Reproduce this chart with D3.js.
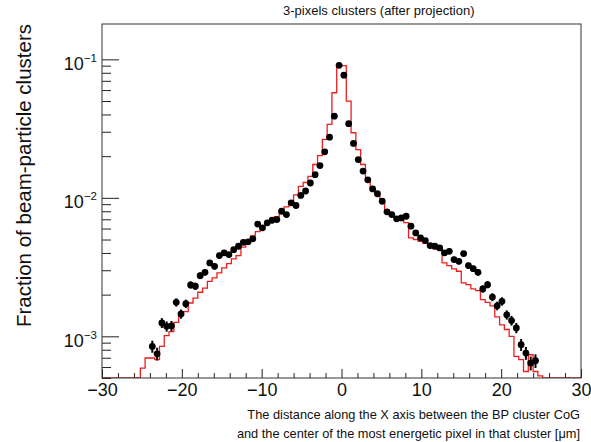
<!DOCTYPE html>
<html>
<head>
<meta charset="utf-8">
<script src="https://d3js.org/d3.v7.min.js"></script>
<style>
  body { margin: 0; background: #fff; }
  text { font-family: "Liberation Sans", Arial, sans-serif; }
</style>
</head>
<body>
<svg class="chart"></svg>
<script>
var svgWidth = 591, svgHeight = 442,
    frame = {left: 102, right: 581, top: 24, bottom: 378};

// histogram binning: 100 bins of 0.6 over [-30, 30]
var binStart = -30, binWidth = 0.6;

// data points (black), first filled bin index and values
var dataFirstBin = 10;
var dataValues = [
  8.45e-4, 7.48e-4, 1.25e-3, 1.18e-3, 1.19e-3, 1.76e-3, 1.45e-3, 1.72e-3, 2.35e-3, 2.30e-3,
  2.74e-3, 2.90e-3, 3.39e-3, 3.20e-3, 3.83e-3, 4.00e-3, 3.89e-3, 4.22e-3, 4.47e-3, 4.77e-3,
  4.81e-3, 5.06e-3, 6.46e-3, 6.07e-3, 6.60e-3, 6.89e-3, 6.97e-3, 8.00e-3, 7.57e-3, 9.20e-3,
  8.80e-3, 1.04e-2, 1.12e-2, 1.28e-2, 1.47e-2, 1.71e-2, 2.15e-2, 2.74e-2, 3.89e-2, 9.06e-2,
  7.69e-2, 3.43e-2, 2.47e-2, 1.89e-2, 1.56e-2, 1.35e-2, 1.16e-2, 1.07e-2, 9.45e-3, 7.92e-3,
  7.57e-3, 7.05e-3, 7.16e-3, 7.36e-3, 6.24e-3, 5.58e-3, 5.14e-3, 4.91e-3, 4.52e-3, 4.47e-3,
  4.35e-3, 4.00e-3, 4.11e-3, 3.58e-3, 3.48e-3, 3.96e-3, 3.24e-3, 3.08e-3, 2.90e-3, 2.20e-3,
  2.36e-3, 1.92e-3, 1.66e-3, 1.79e-3, 1.43e-3, 1.30e-3, 1.15e-3, 8.70e-4, 7.57e-4, 6.41e-4,
  6.66e-4
];
// relative error of each data point
var dataRelErr = [
  0.100, 0.106, 0.082, 0.085, 0.084, 0.069, 0.076, 0.070, 0.060, 0.061,
  0.056, 0.054, 0.050, 0.051, 0.047, 0.046, 0.046, 0.045, 0.044, 0.042,
  0.042, 0.041, 0.036, 0.037, 0.036, 0.035, 0.035, 0.033, 0.033, 0.030,
  0.031, 0.029, 0.027, 0.026, 0.024, 0.022, 0.020, 0.018, 0.015, 0.010,
  0.010, 0.016, 0.019, 0.021, 0.023, 0.025, 0.027, 0.028, 0.030, 0.033,
  0.033, 0.035, 0.034, 0.034, 0.037, 0.039, 0.041, 0.042, 0.043, 0.044,
  0.044, 0.046, 0.045, 0.049, 0.049, 0.046, 0.051, 0.052, 0.054, 0.062,
  0.060, 0.066, 0.072, 0.069, 0.077, 0.081, 0.086, 0.099, 0.106, 0.115,
  0.113
];

// simulation histogram (red)
var mcFirstBin = 8;
var mcValues = [
  5.90e-4, 6.97e-4, 6.97e-4, 6.78e-4, 8.45e-4, 1.01e-3, 1.08e-3, 1.26e-3, 1.43e-3, 1.51e-3,
  1.74e-3, 1.89e-3, 2.08e-3, 2.23e-3, 2.49e-3, 2.64e-3, 2.87e-3, 3.12e-3, 3.35e-3, 3.62e-3,
  3.83e-3, 4.40e-3, 4.80e-3, 5.30e-3, 5.70e-3, 6.00e-3, 6.60e-3, 6.90e-3, 7.30e-3, 7.90e-3,
  8.60e-3, 9.40e-3, 1.05e-2, 1.21e-2, 1.29e-2, 1.43e-2, 1.74e-2, 2.02e-2, 2.64e-2, 3.39e-2,
  5.74e-2, 9.20e-2, 9.00e-2, 5.00e-2, 2.95e-2, 2.23e-2, 1.74e-2, 1.32e-2, 1.17e-2, 1.06e-2,
  9.30e-3, 8.10e-3, 7.57e-3, 7.18e-3, 6.90e-3, 6.63e-3, 5.14e-3, 5.00e-3, 4.85e-3, 4.70e-3,
  4.47e-3, 4.30e-3, 4.22e-3, 3.39e-3, 3.24e-3, 3.07e-3, 2.95e-3, 2.43e-3, 2.36e-3, 2.20e-3,
  2.14e-3, 1.84e-3, 1.76e-3, 1.66e-3, 1.38e-3, 1.21e-3, 1.12e-3, 1.00e-3, 7.16e-4, 6.78e-4,
  5.57e-4, 7.36e-4, 5.57e-4, 5.18e-4
];

var xMajorTicks = [-30, -20, -10, 0, 10, 20, 30];
var yMajorTicks = [1e-3, 1e-2, 1e-1];
var yTickExponents = ["\u22123", "\u22122", "\u22121"];

var titleText = "3-pixels clusters (after projection)";
var yTitle = "Fraction of beam-particle clusters";
var xTitle1 = "The distance along the X axis between the BP cluster CoG";
var xTitle2 = "and the center of the most energetic pixel in that cluster [\u03bcm]";

var xScale = d3.scaleLinear().domain([-30, 30]).range([frame.left, frame.right]);
var yScale = d3.scaleLog().domain([5e-4, 0.18]).range([frame.bottom, frame.top]);

var svg = d3.select(".chart")
    .attr("width", svgWidth)
    .attr("height", svgHeight);

svg.append("rect")
    .attr("width", svgWidth).attr("height", svgHeight)
    .attr("fill", "#fff");

svg.append("clipPath").attr("id", "frameClip")
  .append("rect")
    .attr("x", frame.left).attr("y", frame.top)
    .attr("width", frame.right - frame.left)
    .attr("height", frame.bottom - frame.top);

// red step histogram, zero bins lie on the frame bottom
var nBins = Math.round((30 - binStart) / binWidth);
var stepPts = [];
for (var j = 0; j < nBins; j++) {
  var v = (j >= mcFirstBin && j < mcFirstBin + mcValues.length) ? mcValues[j - mcFirstBin] : 0;
  var yy = v > 0 ? Math.min(yScale(v), frame.bottom) : frame.bottom;
  stepPts.push([xScale(binStart + j * binWidth), yy]);
  stepPts.push([xScale(binStart + (j + 1) * binWidth), yy]);
}
svg.append("path")
    .attr("clip-path", "url(#frameClip)")
    .attr("d", d3.line()(stepPts))
    .attr("fill", "none")
    .attr("stroke", "#ec1f1f")
    .attr("stroke-width", 1.3);

// data points with error bars
var points = dataValues.map(function (v, i) {
  var bin = dataFirstBin + i;
  return {x: binStart + (bin + 0.5) * binWidth, y: v, e: dataRelErr[i]};
});

var pg = svg.append("g").attr("clip-path", "url(#frameClip)");
pg.selectAll(".err").data(points).enter().append("line")
    .attr("class", "err")
    .attr("x1", d => xScale(d.x)).attr("x2", d => xScale(d.x))
    .attr("y1", d => yScale(d.y * (1 + d.e)))
    .attr("y2", d => yScale(d.y * (1 - d.e)))
    .attr("stroke", "#000").attr("stroke-width", 2);
pg.selectAll(".dot").data(points).enter().append("circle")
    .attr("class", "dot")
    .attr("cx", d => xScale(d.x))
    .attr("cy", d => yScale(d.y))
    .attr("r", 3.4)
    .attr("fill", "#000");

// x axis
var xMinor = d3.range(-28, 30, 2).filter(d => d % 10 !== 0);
var xAxisMajor = d3.axisBottom(xScale).tickValues(xMajorTicks)
    .tickSize(-9).tickSizeOuter(0).tickPadding(5)
    .tickFormat(d => (d < 0 ? "\u2212" : "") + Math.abs(d));
var xAxisMinor = d3.axisBottom(xScale).tickValues(xMinor)
    .tickSize(-5).tickSizeOuter(0).tickFormat("");

var gx = svg.append("g").attr("transform", "translate(0," + frame.bottom + ")").call(xAxisMajor);
var gx2 = svg.append("g").attr("transform", "translate(0," + frame.bottom + ")").call(xAxisMinor);
[gx, gx2].forEach(function (g) {
  g.select(".domain").remove();
  g.selectAll(".tick line").attr("stroke", "#222");
});
gx.selectAll(".tick text")
    .attr("font-size", "18px")
    .attr("font-family", "Liberation Sans, Arial, sans-serif")
    .attr("fill", "#111");

// y axis
var yMinor = [];
[1e-4, 1e-3, 1e-2, 1e-1].forEach(function (dec) {
  [2, 3, 4, 5, 6, 7, 8, 9].forEach(function (m) {
    var t = m * dec;
    if (t >= 5e-4 && t <= 0.18) yMinor.push(t);
  });
});
var yAxisMajor = d3.axisLeft(yScale).tickValues(yMajorTicks)
    .tickSize(-17).tickSizeOuter(0).tickPadding(5).tickFormat("");
var yAxisMinor = d3.axisLeft(yScale).tickValues(yMinor)
    .tickSize(-9).tickSizeOuter(0).tickFormat("");

var gy = svg.append("g").attr("transform", "translate(" + frame.left + ",0)").call(yAxisMajor);
var gy2 = svg.append("g").attr("transform", "translate(" + frame.left + ",0)").call(yAxisMinor);
[gy, gy2].forEach(function (g) {
  g.select(".domain").remove();
  g.selectAll(".tick line").attr("stroke", "#222");
});
gy.selectAll(".tick text").each(function (d, i) {
  var t = d3.select(this)
      .attr("x", -5).attr("dy", null).attr("y", 10)
      .attr("font-size", "18px").attr("fill", "#111")
      .attr("text-anchor", "end");
  t.text(null);
  t.append("tspan").text("10");
  t.append("tspan").attr("dy", -8).attr("font-size", "11.5px").text(yTickExponents[i]);
});

// frame
svg.append("rect")
    .attr("x", frame.left).attr("y", frame.top)
    .attr("width", frame.right - frame.left)
    .attr("height", frame.bottom - frame.top)
    .attr("fill", "none")
    .attr("stroke", "#333")
    .attr("stroke-width", 1);

// titles
svg.append("text")
    .attr("x", 283).attr("y", 15)
    .attr("font-size", "13px").attr("fill", "#111")
    .text(titleText);

svg.append("text")
    .attr("transform", "translate(31," + frame.top + ") rotate(-90)")
    .attr("text-anchor", "end")
    .attr("font-size", "20.5px").attr("fill", "#111")
    .text(yTitle);

svg.append("text")
    .attr("x", 580).attr("y", 419)
    .attr("text-anchor", "end")
    .attr("font-size", "12.8px").attr("fill", "#111")
    .text(xTitle1);
svg.append("text")
    .attr("x", 580).attr("y", 438)
    .attr("text-anchor", "end")
    .attr("font-size", "12.8px").attr("fill", "#111")
    .text(xTitle2);
</script>
</body>
</html>
